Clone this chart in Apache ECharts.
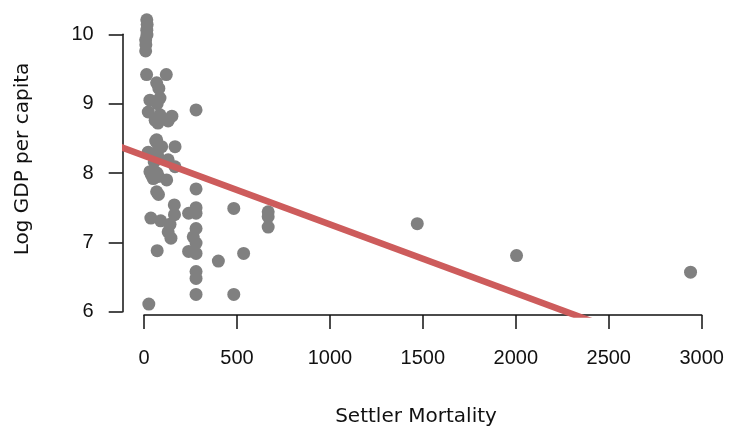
<!DOCTYPE html>
<html>
<head>
<meta charset="utf-8">
<script src="https://cdn.jsdelivr.net/npm/echarts@6/dist/echarts.min.js"></script>
<style>
html, body { margin: 0; padding: 0; background: #fff; }
#chart { width: 730px; height: 435px; }
</style>
</head>
<body>
<div id="chart"></div>
<script>
/* settler mortality (x) and log GDP per capita (y) */
var mortality = [15, 17, 15, 16, 9, 10, 9, 14, 120, 68, 80, 32, 86, 71, 23, 86, 150, 60, 130, 75, 280,
	68, 63, 95, 167, 78, 23, 71, 78, 130, 55, 167, 32, 70, 40, 78, 122, 50, 68, 78, 280,
	163, 164, 37, 90, 130, 145, 140, 71, 280, 280, 240, 280, 265, 280, 240, 280, 400, 536, 483,
	668, 668, 668, 280, 280, 280, 483, 26, 1470, 2004, 2940];
var logGdp = [10.21, 10.14, 10.06, 9.99, 9.92, 9.85, 9.76, 9.42, 9.42, 9.30, 9.22, 9.05, 9.08, 9.00, 8.88, 8.84, 8.82, 8.76, 8.75, 8.72, 8.91,
	8.48, 8.46, 8.38, 8.38, 8.40, 8.30, 8.29, 8.22, 8.19, 8.16, 8.09, 8.02, 8.00, 7.97, 7.95, 7.90, 7.92, 7.73, 7.69, 7.77,
	7.54, 7.40, 7.35, 7.31, 7.15, 7.06, 7.26, 6.88, 7.50, 7.42, 7.42, 7.20, 7.08, 6.99, 6.87, 6.84, 6.73, 6.84, 7.49,
	7.44, 7.37, 7.22, 6.58, 6.48, 6.25, 6.25, 6.11, 7.27, 6.81, 6.57];

/* fitted line: intercept and slope, drawn over a wider range and clipped by the grid */
var fitIntercept = 8.25;
var fitSlope = -0.000991;
var fitX = [-300, 2800];

/* tick labels */
var xTicks = [0, 500, 1000, 1500, 2000, 2500, 3000];
var yTicks = [6, 7, 8, 9, 10];

var points = [];
for (var i = 0; i < mortality.length; i++) {
	points.push([mortality[i], logGdp[i]]);
}
var fitLine = fitX.map(function (x) { return [x, fitIntercept + fitSlope * x]; });

var labelFont = '"Liberation Sans", Arial, sans-serif';
var titleFont = '"DejaVu Sans", sans-serif';
var axisColor = '#111';

// plain numbers, no thousands separator
function plainLabel(v) {
	return String(v);
}

var myChart = echarts.init(document.getElementById('chart'), null, { renderer: 'canvas' });

var option = {
	backgroundColor: '#fff',
	animation: false,
	grid: [
		// data area (axes hidden); a bit inside the drawn axes since the thick line's clip is padded
		{ left: 125.4, top: 13.5, width: 585.6, height: 301 },
		// x axis drawn on its own, offset below the data
		{ left: 144, right: 28.3, bottom: 120, height: 50 },
		// y axis drawn on its own, offset left of the data
		{ left: 122.7, top: 34.3, bottom: 123.3, width: 50 }
	],
	xAxis: [
		{ gridIndex: 0, type: 'value', min: -100, max: 3050, show: false },
		{
			gridIndex: 1, type: 'value', min: xTicks[0], max: xTicks[xTicks.length - 1], interval: 500,
			position: 'bottom',
			axisLine: { show: true, lineStyle: { color: axisColor, width: 1.5 } },
			axisTick: { show: true, length: 14, lineStyle: { color: axisColor, width: 1.5 } },
			axisLabel: { margin: 33, fontSize: 20, color: axisColor, fontFamily: labelFont, formatter: plainLabel },
			splitLine: { show: false }
		},
		{ gridIndex: 2, type: 'value', show: false }
	],
	yAxis: [
		{ gridIndex: 0, type: 'value', min: 5.96, max: 10.3, show: false },
		{ gridIndex: 1, type: 'value', show: false },
		{
			gridIndex: 2, type: 'value', min: yTicks[0], max: yTicks[yTicks.length - 1], interval: 1,
			position: 'left',
			axisLine: { show: true, lineStyle: { color: axisColor, width: 1.5 } },
			axisTick: { show: true, length: 14, lineStyle: { color: axisColor, width: 1.5 } },
			axisLabel: { margin: 29, fontSize: 20, color: axisColor, fontFamily: labelFont, formatter: plainLabel },
			splitLine: { show: false }
		}
	],
	graphic: [
		{
			type: 'text', x: 416, y: 417,
			style: { text: 'Settler Mortality', fontSize: 20, fontFamily: titleFont, fill: axisColor, align: 'center', verticalAlign: 'middle' }
		},
		{
			type: 'text', x: 23, y: 159, rotation: Math.PI / 2,
			style: { text: 'Log GDP per capita', fontSize: 20, fontFamily: titleFont, fill: axisColor, align: 'center', verticalAlign: 'middle' }
		}
	],
	series: [
		{
			type: 'scatter',
			xAxisIndex: 0, yAxisIndex: 0,
			data: points,
			symbol: 'circle',
			symbolSize: 13,
			clip: false,
			itemStyle: { color: '#808080', opacity: 1 },
			z: 2
		},
		{
			type: 'line',
			xAxisIndex: 0, yAxisIndex: 0,
			data: fitLine,
			showSymbol: false,
			clip: true,
			lineStyle: { color: '#cd5c5c', width: 6.5, cap: 'butt' },
			z: 3
		}
	]
};

myChart.setOption(option);
</script>
</body>
</html>
